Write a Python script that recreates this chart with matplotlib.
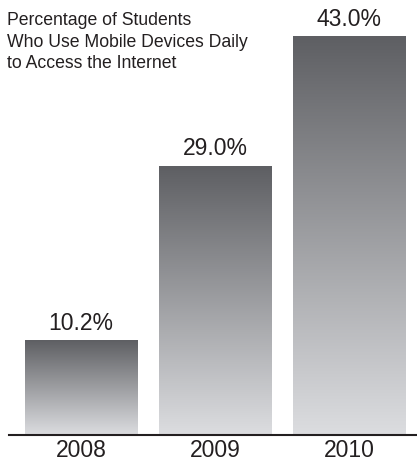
import numpy as np
import matplotlib
matplotlib.use("Agg")
import matplotlib.pyplot as plt
from matplotlib.colors import LinearSegmentedColormap

plt.rcParams['font.family'] = ['Liberation Sans', 'DejaVu Sans']

years = ['2008', '2009', '2010']
values = [10.2, 29.0, 43.0]
labels = ['10.2%', '29.0%', '43.0%']
title = 'Percentage of Students\nWho Use Mobile Devices Daily\nto Access the Internet'

fig = plt.figure(figsize=(4.17, 4.61), dpi=100)
ax = fig.add_axes([9 / 417, 26 / 461, 408 / 417, 435 / 461])

# vertical grey gradient, dark at the top of each bar
cmap = LinearSegmentedColormap.from_list('bargrad', ['#dcdde0', '#5e5f63'])
grad = np.linspace(0, 1, 256).reshape(-1, 1)

width = 0.836
x = np.arange(len(years))
bars = ax.bar(x, values, width=width, color='none', edgecolor='none')
for b in bars:
    x0, y0 = b.get_x(), b.get_y()
    w, h = b.get_width(), b.get_height()
    im = ax.imshow(grad, cmap=cmap, aspect='auto', origin='lower',
                   extent=[x0, x0 + w, y0, y0 + h], zorder=2)
    im.set_clip_path(b)

for xi, v, lab in zip(x, values, labels):
    ax.annotate(lab, (xi, v), xytext=(0, 4), textcoords='offset points',
                ha='center', va='bottom', fontsize=16.5, color='#231f20')

ax.set_xlim(-0.537, 2.504)
ax.set_ylim(0, 46.9)
ax.set_xticks(x)
ax.set_xticklabels(years, fontsize=16.5, color='#231f20')
ax.tick_params(axis='x', length=0, pad=3)
ax.set_yticks([])
for s in ['top', 'right', 'left']:
    ax.spines[s].set_visible(False)
ax.spines['bottom'].set_linewidth(1.5)
ax.spines['bottom'].set_color('#231f20')

fig.text(7 / 417, 1 - 12 / 461, title, ha='left', va='top', fontsize=12.7,
         color='#231f20', linespacing=1.35)

fig.savefig('out.png', dpi=100)
